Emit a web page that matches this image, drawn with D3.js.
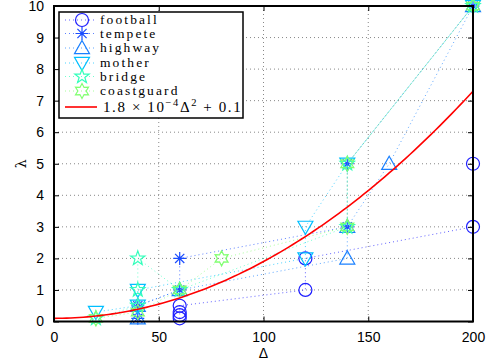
<!DOCTYPE html>
<html>
<head>
<meta charset="utf-8">
<script src="https://cdn.jsdelivr.net/npm/d3@7"></script>
<style>
  body { margin: 0; background: #fff; }
  svg { display: block; }
</style>
</head>
<body>
<div id="chart"></div>
<script>
// --- data ---
const seriesNames = ['football', 'tempete', 'highway', 'mother', 'bridge', 'coastguard'];
const seriesColors = ['#1f1fff', '#1a4cff', '#1a80ff', '#00bfff', '#33ffbb', '#80ff70'];
const seriesMarkers = ['circle', 'asterisk', 'triUp', 'triDown', 'pentagram', 'hexagram'];

const footballDelta = [60, 60, 60, 60, 120, 120, 200, 200];
const footballLambda = [0.1, 0.2, 0.3, 0.5, 1, 2, 3, 5];
const tempeteDelta = [40, 40, 60, 60, 140, 140, 200];
const tempeteLambda = [0.1, 0.5, 1, 2, 3, 5, 10];
const highwayDelta = [40, 40, 60, 140, 140, 160, 200];
const highwayLambda = [0.1, 0.5, 1, 2, 3, 5, 10];
const motherDelta = [20, 40, 40, 120, 120, 140, 200];
const motherLambda = [0.3, 0.5, 1, 2, 3, 5, 10];
const bridgeDelta = [20, 40, 40, 40, 60, 140, 140, 200];
const bridgeLambda = [0.1, 0.5, 1, 2, 1, 3, 5, 10];
const coastguardDelta = [20, 40, 60, 80, 140, 140, 200];
const coastguardLambda = [0.1, 0.3, 1, 2, 3, 5, 10];

const allDelta = [footballDelta, tempeteDelta, highwayDelta, motherDelta, bridgeDelta, coastguardDelta];
const allLambda = [footballLambda, tempeteLambda, highwayLambda, motherLambda, bridgeLambda, coastguardLambda];

// fitted curve  lambda = a * delta^2 + b
const fitA = 1.8e-4;
const fitB = 0.1;

const xTicks = [0, 50, 100, 150, 200];
const yTicks = [0, 1, 2, 3, 4, 5, 6, 7, 8, 9, 10];

// --- layout ---
const W = 490, H = 360;
const margin = { top: 6, right: 17, bottom: 38.5, left: 54 };
const width = W - margin.left - margin.right;
const height = H - margin.top - margin.bottom;

const svg = d3.select('#chart').append('svg')
  .attr('width', W).attr('height', H);
const g = svg.append('g')
  .attr('transform', `translate(${margin.left},${margin.top})`);

const x = d3.scaleLinear().domain([0, 200]).range([0, width]);
const y = d3.scaleLinear().domain([0, 10]).range([height, 0]);

// grid
g.append('g').selectAll('line')
  .data(xTicks.slice(1, -1)).enter().append('line')
  .attr('x1', d => x(d)).attr('x2', d => x(d))
  .attr('y1', 0).attr('y2', height)
  .attr('stroke', '#888').attr('stroke-width', 1)
  .attr('stroke-dasharray', '1,3');
g.append('g').selectAll('line')
  .data(yTicks.slice(1, -1)).enter().append('line')
  .attr('x1', 0).attr('x2', width)
  .attr('y1', d => y(d)).attr('y2', d => y(d))
  .attr('stroke', '#888').attr('stroke-width', 1)
  .attr('stroke-dasharray', '1,3');

// marker shapes
function markerPath(type, s) {
  if (type === 'circle') {
    const p = d3.path();
    p.moveTo(s, 0);
    p.arc(0, 0, s, 0, 2 * Math.PI);
    return p.toString();
  }
  if (type === 'asterisk') {
    let p = '';
    for (let i = 0; i < 4; i++) {
      const a = i * Math.PI / 4;
      const dx = Math.cos(a) * s, dy = Math.sin(a) * s;
      p += `M${-dx},${-dy}L${dx},${dy}`;
    }
    return p;
  }
  if (type === 'triUp') return `M0,${-s}L${s},${s * 0.75}L${-s},${s * 0.75}Z`;
  if (type === 'triDown') return `M0,${s}L${s},${-s * 0.75}L${-s},${-s * 0.75}Z`;
  if (type === 'pentagram' || type === 'hexagram') {
    const n = type === 'pentagram' ? 5 : 6;
    const ri = type === 'pentagram' ? s * 0.4 : s * 0.55;
    const pts = [];
    for (let i = 0; i < 2 * n; i++) {
      const a = -Math.PI / 2 + i * Math.PI / n;
      const r = i % 2 === 0 ? s : ri;
      pts.push([Math.cos(a) * r, Math.sin(a) * r]);
    }
    return 'M' + pts.map(p => p.join(',')).join('L') + 'Z';
  }
  return '';
}
const markerSize = { circle: 6.5, asterisk: 6.5, triUp: 7.5, triDown: 7.5, pentagram: 7.5, hexagram: 7.5 };

const line = d3.line().x(d => x(d[0])).y(d => y(d[1]));

// series
seriesNames.forEach((name, i) => {
  const pts = allDelta[i].map((d, j) => [d, allLambda[i][j]]);
  const sg = g.append('g').attr('class', 'series');
  sg.append('path')
    .datum(pts)
    .attr('d', line)
    .attr('fill', 'none')
    .attr('stroke', seriesColors[i])
    .attr('stroke-width', 1)
    .attr('stroke-opacity', 0.7)
    .attr('stroke-dasharray', '1,3');
  sg.selectAll('path.mk')
    .data(pts).enter().append('path')
    .attr('class', 'mk')
    .attr('transform', d => `translate(${x(d[0])},${y(d[1])})`)
    .attr('d', markerPath(seriesMarkers[i], markerSize[seriesMarkers[i]]))
    .attr('fill', 'none')
    .attr('stroke', seriesColors[i])
    .attr('stroke-width', 1.2);
  if (seriesMarkers[i] === 'asterisk') {
    sg.selectAll('circle.dot')
      .data(pts).enter().append('circle')
      .attr('cx', d => x(d[0])).attr('cy', d => y(d[1]))
      .attr('r', 1.8).attr('fill', seriesColors[i]);
  }
});

// fitted curve
const fitPts = d3.range(0, 201, 2).map(d => [d, fitA * d * d + fitB]);
g.append('path')
  .datum(fitPts)
  .attr('d', line)
  .attr('fill', 'none')
  .attr('stroke', '#ff0000')
  .attr('stroke-width', 1.6);

// axes
const tickLen = 5;
const sans = '"Liberation Sans", Arial, sans-serif';
g.append('g')
  .attr('transform', `translate(0,${height})`)
  .call(d3.axisBottom(x).tickValues(xTicks).tickSize(-tickLen).tickPadding(11))
  .call(s => s.select('.domain').remove());
g.append('g')
  .call(d3.axisLeft(y).tickValues(yTicks).tickSize(-tickLen).tickPadding(10))
  .call(s => s.select('.domain').remove());
g.append('g')
  .call(d3.axisTop(x).tickValues(xTicks).tickSize(-tickLen).tickFormat(''))
  .call(s => s.select('.domain').remove());
g.append('g')
  .attr('transform', `translate(${width},0)`)
  .call(d3.axisRight(y).tickValues(yTicks).tickSize(-tickLen).tickFormat(''))
  .call(s => s.select('.domain').remove());
g.selectAll('.tick line').attr('stroke', '#000');
g.selectAll('.tick text')
  .attr('fill', '#000')
  .style('font-family', sans)
  .style('font-size', '14px');

g.append('rect')
  .attr('x', 0).attr('y', 0).attr('width', width).attr('height', height)
  .attr('fill', 'none').attr('stroke', '#000').attr('stroke-width', 2);

// axis labels
svg.append('text')
  .attr('x', margin.left + x(100)).attr('y', 358)
  .attr('text-anchor', 'middle')
  .style('font-family', sans)
  .style('font-size', '14px')
  .text('Δ');
svg.append('text')
  .attr('transform', `translate(26,${margin.top + y(5)}) rotate(-90)`)
  .attr('text-anchor', 'middle')
  .style('font-family', '"DejaVu Serif", serif')
  .style('font-size', '14px')
  .text('λ');

// legend
const lg = svg.append('g').attr('transform', 'translate(59,12)');
lg.append('rect')
  .attr('width', 184).attr('height', 106)
  .attr('fill', '#fff').attr('stroke', '#000').attr('stroke-width', 1.5);
const rowY = [8, 21.5, 36, 51, 64.5, 79, 95];
const legendFont = '"Liberation Serif", "DejaVu Serif", serif';
seriesNames.forEach((name, i) => {
  const ry = rowY[i];
  lg.append('line')
    .attr('x1', 6).attr('x2', 38).attr('y1', ry).attr('y2', ry)
    .attr('stroke', seriesColors[i]).attr('stroke-width', 1)
    .attr('stroke-opacity', 0.7).attr('stroke-dasharray', '1,3');
  lg.append('path')
    .attr('transform', `translate(23,${ry})`)
    .attr('d', markerPath(seriesMarkers[i], markerSize[seriesMarkers[i]]))
    .attr('fill', 'none').attr('stroke', seriesColors[i]).attr('stroke-width', 1.2);
  if (seriesMarkers[i] === 'asterisk') {
    lg.append('circle').attr('cx', 23).attr('cy', ry).attr('r', 1.8).attr('fill', seriesColors[i]);
  }
  lg.append('text')
    .attr('x', 41).attr('y', ry + 4)
    .style('font-family', legendFont).style('font-size', '13.5px')
    .style('letter-spacing', '2.1px')
    .text(name);
});
lg.append('line')
  .attr('x1', 6).attr('x2', 38).attr('y1', rowY[6]).attr('y2', rowY[6])
  .attr('stroke', '#ff0000').attr('stroke-width', 1.6);
const ft = lg.append('text')
  .attr('x', 44).attr('y', rowY[6] + 5)
  .style('font-family', legendFont).style('font-size', '15px')
  .style('letter-spacing', '1.6px');
ft.append('tspan').text(`${fitA * 1e4} × 10`);
ft.append('tspan').attr('dy', -6).style('font-size', '10.5px').text('−4');
ft.append('tspan').attr('dy', 6).text('Δ');
ft.append('tspan').attr('dy', -6).style('font-size', '10.5px').text('2');
ft.append('tspan').attr('dy', 6).text(` + ${fitB}`);
</script>
</body>
</html>
